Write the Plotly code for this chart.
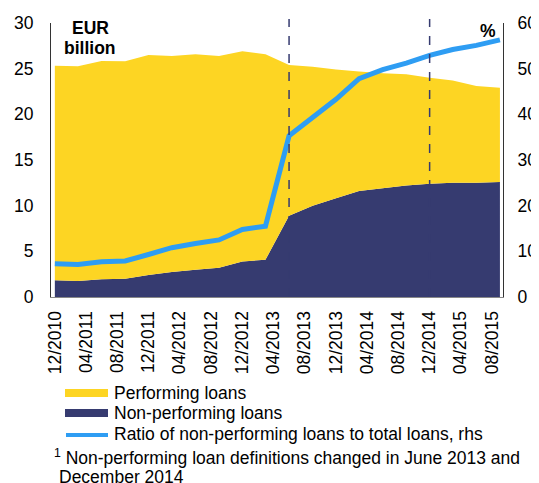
import plotly.graph_objects as go

# quarterly observations, 12/2010 - 09/2015
dates = ["2010-12-01", "2011-03-01", "2011-06-01", "2011-09-01", "2011-12-01",
         "2012-03-01", "2012-06-01", "2012-09-01", "2012-12-01", "2013-03-01",
         "2013-06-01", "2013-09-01", "2013-12-01", "2014-03-01", "2014-06-01",
         "2014-09-01", "2014-12-01", "2015-03-01", "2015-06-01", "2015-09-01"]

# EUR billion
non_performing = [1.83, 1.76, 1.94, 2.0, 2.4, 2.75, 2.97, 3.2, 3.9, 4.07,
                  8.9, 10.0, 10.8, 11.6, 11.9, 12.2, 12.4, 12.5, 12.5, 12.6]
performing = [23.5, 23.5, 23.9, 23.8, 24.1, 23.65, 23.6, 23.2, 23.0, 22.5,
              16.5, 15.2, 14.1, 13.1, 12.6, 12.2, 11.6, 11.2, 10.6, 10.3]

# percent, rhs
npl_ratio = [7.3, 7.1, 7.7, 7.9, 9.3, 10.8, 11.7, 12.5, 14.8, 15.5,
             35.3, 39.5, 43.3, 47.8, 49.8, 51.2, 52.9, 54.2, 55.1, 56.3]

# definition changes (footnote)
breaks = ["2013-06-01", "2014-12-01"]

YELLOW = "#FDD523"
NAVY = "#363B70"
BLUE = "#2E9DF3"
FONT = "Liberation Sans, Arial, sans-serif"
FS = 17.5

# page body has an 8px margin, so the figure is drawn 8px smaller / shifted
OFF = 8
W, H = 539 - OFF, 483 - OFF
# plot area in screen pixels: x 51..503, y 23..297
L, R, T, B = 51, 503, 23, 297


def px(x):
    return (x - L) / (R - L)


def py(y):
    return (B - y) / (B - T)


fig = go.Figure()

fig.add_trace(go.Scatter(x=dates, y=non_performing, name="Non-performing loans",
                         stackgroup="loans", mode="none", fillcolor=NAVY))
fig.add_trace(go.Scatter(x=dates, y=performing, name="Performing loans",
                         stackgroup="loans", mode="none", fillcolor=YELLOW))
fig.add_trace(go.Scatter(x=dates, y=npl_ratio, yaxis="y2", mode="lines",
                         name="Ratio of non-performing loans to total loans, rhs",
                         line=dict(color=BLUE, width=5)))

for d in breaks:
    fig.add_shape(type="line", xref="x", yref="paper", x0=d, x1=d, y0=0, y1=py(19),
                  line=dict(color=NAVY, width=1.5, dash="dash"))

# legend drawn by hand, below the plot
fig.add_shape(type="rect", xref="paper", yref="paper", x0=px(65), x1=px(108),
              y0=py(389), y1=py(397), fillcolor=YELLOW, line_width=0)
fig.add_shape(type="rect", xref="paper", yref="paper", x0=px(65), x1=px(108),
              y0=py(409), y1=py(417), fillcolor=NAVY, line_width=0)
fig.add_shape(type="line", xref="paper", yref="paper", x0=px(66), x1=px(108),
              y0=py(435), y1=py(435), line=dict(color=BLUE, width=4))
legend_labels = ["Performing loans", "Non-performing loans",
                 "Ratio of non-performing loans to total loans, rhs"]
for lab, yy in zip(legend_labels, [393, 413, 434]):
    fig.add_annotation(text=lab, xref="paper", yref="paper", x=px(112), y=py(yy),
                       xanchor="left", yanchor="middle", showarrow=False,
                       font=dict(size=FS, color="black"))

fig.add_annotation(text="<b>EUR</b>", xref="paper", yref="paper", x=px(90), y=py(28),
                   xanchor="center", yanchor="middle", showarrow=False,
                   font=dict(size=FS, color="black"))
fig.add_annotation(text="<b>billion</b>", xref="paper", yref="paper", x=px(90), y=py(48),
                   xanchor="center", yanchor="middle", showarrow=False,
                   font=dict(size=FS, color="black"))
fig.add_annotation(text="<b>%</b>", xref="paper", yref="paper", x=px(488), y=py(31),
                   xanchor="center", yanchor="middle", showarrow=False,
                   font=dict(size=FS, color="black"))
fig.add_annotation(text="<sup>1</sup> Non-performing loan definitions changed in June 2013 and",
                   xref="paper", yref="paper", x=px(52), y=py(457), xanchor="left",
                   yanchor="middle", showarrow=False, font=dict(size=FS, color="black"))
fig.add_annotation(text="December 2014", xref="paper", yref="paper", x=px(57), y=py(477),
                   xanchor="left", yanchor="middle", showarrow=False,
                   font=dict(size=FS, color="black"))

fig.update_layout(
    width=W, height=H,
    margin=dict(l=L - OFF, r=W - (R - OFF), t=T - OFF, b=H - (B - OFF), autoexpand=False),
    paper_bgcolor="white", plot_bgcolor="white",
    font=dict(family=FONT, size=FS, color="black"),
    showlegend=False,
    xaxis=dict(type="date", range=["2010-11-16", "2015-09-13"],
               tick0="2010-12-01", dtick="M4", tickformat="%m/%Y", tickangle=-90,
               showgrid=False, zeroline=False, showline=True, linecolor="#888888",
               linewidth=1, ticks="", ticklabelstandoff=6, automargin=False),
    yaxis=dict(range=[0, 30], dtick=5, showgrid=False, zeroline=False,
               showline=True, linecolor="#333333", linewidth=1, ticks="",
               ticklabelstandoff=13, automargin=False),
    yaxis2=dict(range=[0, 60], dtick=10, overlaying="y", side="right",
                showgrid=False, zeroline=False, showline=True, linecolor="#333333",
                linewidth=1, ticks="", ticklabelstandoff=10, automargin=False),
)

fig.write_html("out.html")
